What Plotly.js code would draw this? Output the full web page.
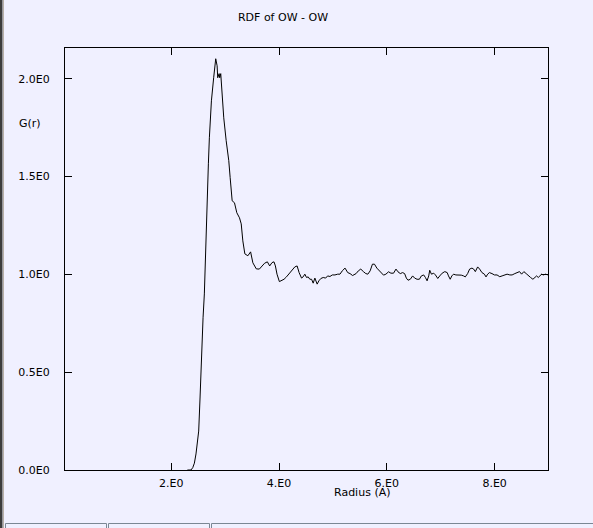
<!DOCTYPE html>
<html>
<head>
<meta charset="utf-8">
<script src="https://cdn.plot.ly/plotly-3.0.1.min.js"></script>
<style>
html,body{margin:0;padding:0;background:#F0F0FF;}
#chart{width:593px;height:528px;}
</style>
</head>
<body>
<div id="chart"></div>
<script>
// Radius (Angstrom) samples
const radius = [2.30,2.367,2.40,2.43,2.46,2.51,2.535,2.553,2.572,2.591,2.615,2.628,2.647,2.665,2.69,2.708,2.746,2.788,2.815,2.826,2.852,2.863,2.889,2.90,2.919,2.938,2.975,3.02,3.068,3.094,3.131,3.174,3.217,3.267,3.299,3.329,3.366,3.422,3.473,3.515,
3.579,3.635,3.683,3.733,3.784,3.827,3.870,3.907,3.933,3.963,4.007,4.045,4.093,4.138,4.186,4.242,4.293,4.336,4.373,4.418,4.447,4.479,4.511,4.541,4.572,4.604,4.634,4.665,4.708,4.740,4.777,4.820,4.865,4.902,4.945,4.988,5.038,5.089,5.131,5.174,5.225,5.275,5.318,5.365,
5.430,5.472,5.517,5.566,5.610,5.648,5.691,5.733,5.771,5.815,5.858,5.896,5.939,5.983,6.032,6.076,6.125,6.170,6.207,6.250,6.293,6.330,6.362,6.393,6.436,6.479,6.516,6.561,6.604,6.641,6.684,6.716,6.747,6.777,6.796,6.828,6.870,6.902,6.945,6.982,7.027,7.076,7.120,
7.144,7.176,7.206,7.238,7.281,7.331,7.381,7.424,7.456,7.499,7.536,7.579,7.611,7.642,7.685,7.722,7.765,7.810,7.840,7.871,7.903,7.951,7.996,8.045,8.095,8.138,8.183,8.231,8.282,8.324,8.375,8.418,8.462,8.500,8.542,8.585,8.623,8.667,8.710,8.748,8.779,8.809,8.841,8.872,8.902,8.947,8.984];
// G(r) values
const gr = [0,0,0.012,0.035,0.082,0.199,0.368,0.522,0.66,0.778,0.900,1.035,1.225,1.412,1.565,1.698,1.887,2.005,2.066,2.102,2.066,2.005,2.026,2.005,2.026,1.954,1.80,1.683,1.581,1.494,1.376,1.366,1.315,1.289,1.258,1.171,1.105,1.095,1.115,1.059,
1.028,1.027,1.043,1.057,1.064,1.043,1.060,1.064,1.043,1.001,0.963,0.967,0.975,0.987,1.004,1.021,1.038,1.043,1.009,0.981,0.987,1.001,0.984,0.987,0.975,0.975,0.955,0.981,0.950,0.967,0.979,0.984,0.981,0.992,0.989,0.997,0.997,1.001,1.001,1.018,1.032,1.009,1.004,0.994,
1.004,1.018,1.027,1.014,1.004,1.001,1.018,1.052,1.052,1.032,1.018,1.006,0.996,1.001,1.013,1.006,1.006,1.027,1.013,1.004,1.009,1.004,0.981,0.970,0.975,0.992,0.981,0.975,0.975,0.992,0.997,0.984,0.967,0.992,1.021,1.001,1.006,0.997,0.979,0.992,1.006,1.014,1.009,
0.992,0.975,0.992,1.001,0.997,0.997,0.996,0.992,0.987,1.004,1.027,1.032,1.027,1.014,1.038,1.027,1.009,1.001,0.987,1.001,1.009,1.004,0.997,0.997,0.988,0.992,0.997,1.001,0.997,0.997,1.004,1.009,1.014,1.001,1.014,1.004,0.992,0.984,0.975,0.984,0.992,0.984,0.992,1.001,0.997,1.001,0.997];

const xTickVals = [2,4,6,8];
const xTickText = ["2.E0","4.E0","6.E0","8.E0"];
const yTickVals = [0,0.5,1,1.5,2];
const yTickText = ["0.0E0","0.5E0","1.0E0","1.5E0","2.0E0"];

const titleText = "RDF of OW - OW";
const xLabel = "Radius (A)";
const yLabel = "G(r)";

const FONT = {family:"DejaVu Sans, sans-serif", size:11, color:"#000"};
const L = 65, R = 45, T = 48, B = 58, W = 593, H = 528;
const pw = W - L - R, ph = H - T - B;
const px = v => (v - L) / pw;         // page x -> paper x
const py = v => (H - B - v) / ph;     // page y -> paper y

const trace = {
  x: radius, y: gr, type: "scatter", mode: "lines",
  line: {color: "#000", width: 1}, hoverinfo: "skip"
};

const tabLine = {color: "#7b8794", width: 1};
const layout = {
  width: W, height: H,
  margin: {l: L, r: R, t: T, b: B, pad: 0},
  paper_bgcolor: "#F0F0FF", plot_bgcolor: "#F0F0FF",
  font: FONT, showlegend: false,
  title: {text: titleText, font: FONT, xref: "container", yref: "container",
          x: 283/W, xanchor: "center", y: 1 - 17/H, yanchor: "middle"},
  xaxis: {range: [0.03, 8.99], tickvals: xTickVals, ticktext: xTickText,
          ticks: "inside", ticklen: 7, tickcolor: "#000", tickwidth: 1,
          showline: true, linecolor: "#000", linewidth: 1, mirror: "ticks",
          showgrid: false, zeroline: false, ticklabelstandoff: 3, tickfont: FONT},
  yaxis: {range: [0, 2.157], tickvals: yTickVals, ticktext: yTickText,
          ticks: "inside", ticklen: 7, tickcolor: "#000", tickwidth: 1,
          showline: true, linecolor: "#000", linewidth: 1, mirror: "ticks",
          showgrid: false, zeroline: false, ticklabelstandoff: 12, tickfont: FONT},
  annotations: [
    {text: xLabel, xref: "paper", yref: "paper", x: px(362), y: py(492),
     xanchor: "center", yanchor: "middle", showarrow: false, font: FONT},
    {text: yLabel, xref: "paper", yref: "paper", x: px(30), y: py(123),
     xanchor: "center", yanchor: "middle", showarrow: false, font: FONT}
  ],
  shapes: [
    {type: "rect", xref: "paper", yref: "paper", x0: px(0), x1: px(2.5), y0: py(528), y1: py(0),
     fillcolor: "#3c3c3c", line: {width: 0}, layer: "above"},
    {type: "line", xref: "paper", yref: "paper", x0: px(3.5), x1: px(3.5), y0: py(528), y1: py(0),
     line: {color: "#b8b0a8", width: 1}},
    {type: "rect", xref: "paper", yref: "paper", x0: px(5.5), x1: px(106.5), y0: py(540), y1: py(523.5),
     line: tabLine, fillcolor: "rgba(0,0,0,0)"},
    {type: "rect", xref: "paper", yref: "paper", x0: px(108.5), x1: px(209.5), y0: py(540), y1: py(523.5),
     line: tabLine, fillcolor: "rgba(0,0,0,0)"},
    {type: "rect", xref: "paper", yref: "paper", x0: px(211.5), x1: px(600), y0: py(540), y1: py(523.5),
     line: tabLine, fillcolor: "rgba(0,0,0,0)"}
  ]
};

Plotly.newPlot("chart", [trace], layout, {displayModeBar: false, staticPlot: true});
</script>
</body>
</html>
